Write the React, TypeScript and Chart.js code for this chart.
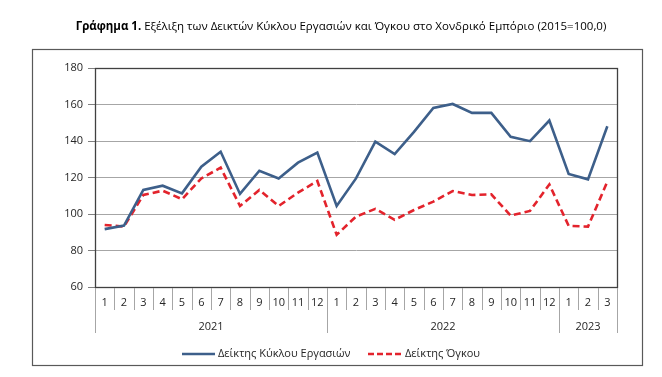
import { useEffect, useRef } from "react";
import { Chart, registerables } from "chart.js";
Chart.register(...registerables);

const months = ["1","2","3","4","5","6","7","8","9","10","11","12","1","2","3","4","5","6","7","8","9","10","11","12","1","2","3"];
const years = ["2021", "2022", "2023"];
const yearSpans = [12, 12, 3];
const turnover = [91.7,93.7,113.2,115.5,111.3,125.9,134.1,111.0,123.7,119.5,128.1,133.6,104.4,119.5,139.6,132.8,145.0,158.1,160.3,155.4,155.4,142.3,139.9,151.2,121.9,119.0,148.1];
const volume = [94.0,93.1,110.4,112.8,108.1,119.5,125.4,104.4,113.2,104.4,111.7,118.1,88.6,98.6,102.8,96.8,102.2,106.8,112.6,110.4,110.8,99.1,101.7,116.2,93.5,93.1,117.7];
const yMin = 60;
const yMax = 180;
const yStep = 20;
const titleBold = "Γράφημα 1.";
const titleRest = " Εξέλιξη των Δεικτών Κύκλου Εργασιών και Όγκου στο Χονδρικό Εμπόριο (2015=100,0)";
const seriesNames = ["Δείκτης Κύκλου Εργασιών", "Δείκτης Όγκου"];

const BLUE = "#3d5f8a";
const RED = "#e3232c";
const FONT = "'Open Sans', 'Liberation Sans', sans-serif";

export default function App() {
  const ref = useRef<HTMLCanvasElement | null>(null);
  useEffect(() => {
    if (!ref.current) return;
    const labels = months.map((m, i) => {
      let acc = 0;
      let y = years[0];
      for (let k = 0; k < years.length; k++) {
        if (i < acc + yearSpans[k]) { y = years[k]; break; }
        acc += yearSpans[k];
      }
      return y + "-" + m;
    });

    const decor = {
      id: "decor",
      afterDraw(chart: any) {
        const ctx = chart.ctx as CanvasRenderingContext2D;
        const ca = chart.chartArea;
        const xs = chart.scales.x;
        const n = months.length;
        const w = (ca.right - ca.left) / n;
        ctx.save();
        // plot frame
        ctx.strokeStyle = "#404040";
        ctx.lineWidth = 1.3;
        ctx.strokeRect(Math.round(ca.left) + 0.5, Math.round(ca.top) + 0.5, Math.round(ca.right - ca.left), Math.round(ca.bottom - ca.top));
        // separators
        ctx.strokeStyle = "#a6a6a6";
        ctx.lineWidth = 1;
        const boundaries = [0];
        let acc = 0;
        yearSpans.forEach((s) => { acc += s; boundaries.push(acc); });
        for (let i = 0; i <= n; i++) {
          const x = Math.round(ca.left + i * w) + 0.5;
          const isYear = boundaries.includes(i);
          ctx.beginPath();
          ctx.moveTo(x, ca.bottom + 1);
          ctx.lineTo(x, ca.bottom + (isYear ? 46 : 23));
          ctx.stroke();
        }
        // month labels
        ctx.fillStyle = "#262626";
        ctx.font = "11px " + FONT;
        ctx.textAlign = "center";
        ctx.textBaseline = "middle";
        months.forEach((m, i) => {
          ctx.fillText(m, xs.getPixelForValue(i), ca.bottom + 15.5);
        });
        // year labels
        let start = 0;
        years.forEach((y, k) => {
          const end = start + yearSpans[k];
          const cx = (xs.getPixelForValue(start) + xs.getPixelForValue(end - 1)) / 2;
          ctx.fillText(y, cx, ca.bottom + 39.5);
          start = end;
        });
        // legend
        const ly = 354;
        ctx.textAlign = "left";
        ctx.lineWidth = 2.5;
        ctx.strokeStyle = BLUE;
        ctx.beginPath();
        ctx.moveTo(182, ly);
        ctx.lineTo(215, ly);
        ctx.stroke();
        ctx.fillText(seriesNames[0], 218, ly);
        ctx.strokeStyle = RED;
        ctx.setLineDash([6, 3]);
        ctx.beginPath();
        ctx.moveTo(368, ly);
        ctx.lineTo(401, ly);
        ctx.stroke();
        ctx.setLineDash([]);
        ctx.fillText(seriesNames[1], 405, ly);
        // outer border
        ctx.strokeStyle = "#595959";
        ctx.lineWidth = 1.2;
        ctx.strokeRect(32.5, 49.5, 610, 316);
        // title
        ctx.fillStyle = "#000";
        ctx.textBaseline = "middle";
        ctx.font = "bold 11.5px " + FONT;
        const wb = ctx.measureText(titleBold).width;
        ctx.font = "11.5px " + FONT;
        const wr = ctx.measureText(titleRest).width;
        const tx = 341 - (wb + wr) / 2;
        ctx.font = "bold 11.5px " + FONT;
        ctx.fillText(titleBold, tx, 27);
        ctx.font = "11.5px " + FONT;
        ctx.fillText(titleRest, tx + wb, 27);
        ctx.restore();
      },
    };

    const chart = new Chart(ref.current, {
      type: "line",
      data: {
        labels,
        datasets: [
          { label: seriesNames[0], data: turnover, borderColor: BLUE, backgroundColor: BLUE, borderWidth: 2.6, pointRadius: 0, tension: 0 },
          { label: seriesNames[1], data: volume, borderColor: RED, backgroundColor: RED, borderWidth: 2.6, borderDash: [7, 4], pointRadius: 0, tension: 0 },
        ],
      },
      options: {
        responsive: false,
        animation: false,
        layout: { padding: { left: 0, top: 68, right: 45, bottom: 90 } },
        plugins: { legend: { display: false }, tooltip: { enabled: false }, title: { display: false } },
        scales: {
          x: { display: false, offset: true, grid: { display: false } },
          y: {
            min: yMin,
            max: yMax,
            afterFit(scale: any) { scale.width = 95; },
            ticks: { stepSize: yStep, color: "#262626", font: { size: 11, family: FONT }, padding: 5 },
            grid: { color: "#a6a6a6", lineWidth: 1, tickLength: 7, tickColor: "#808080" },
            border: { display: true, color: "#404040" },
          },
        },
      },
      plugins: [decor],
    });
    return () => chart.destroy();
  }, []);
  return (
    <div style={{ position: "fixed", left: 0, top: 0, width: 662, height: 377, background: "#fff" }}>
      <canvas ref={ref} width={662} height={377} style={{ width: 662, height: 377, display: "block" }} />
    </div>
  );
}
